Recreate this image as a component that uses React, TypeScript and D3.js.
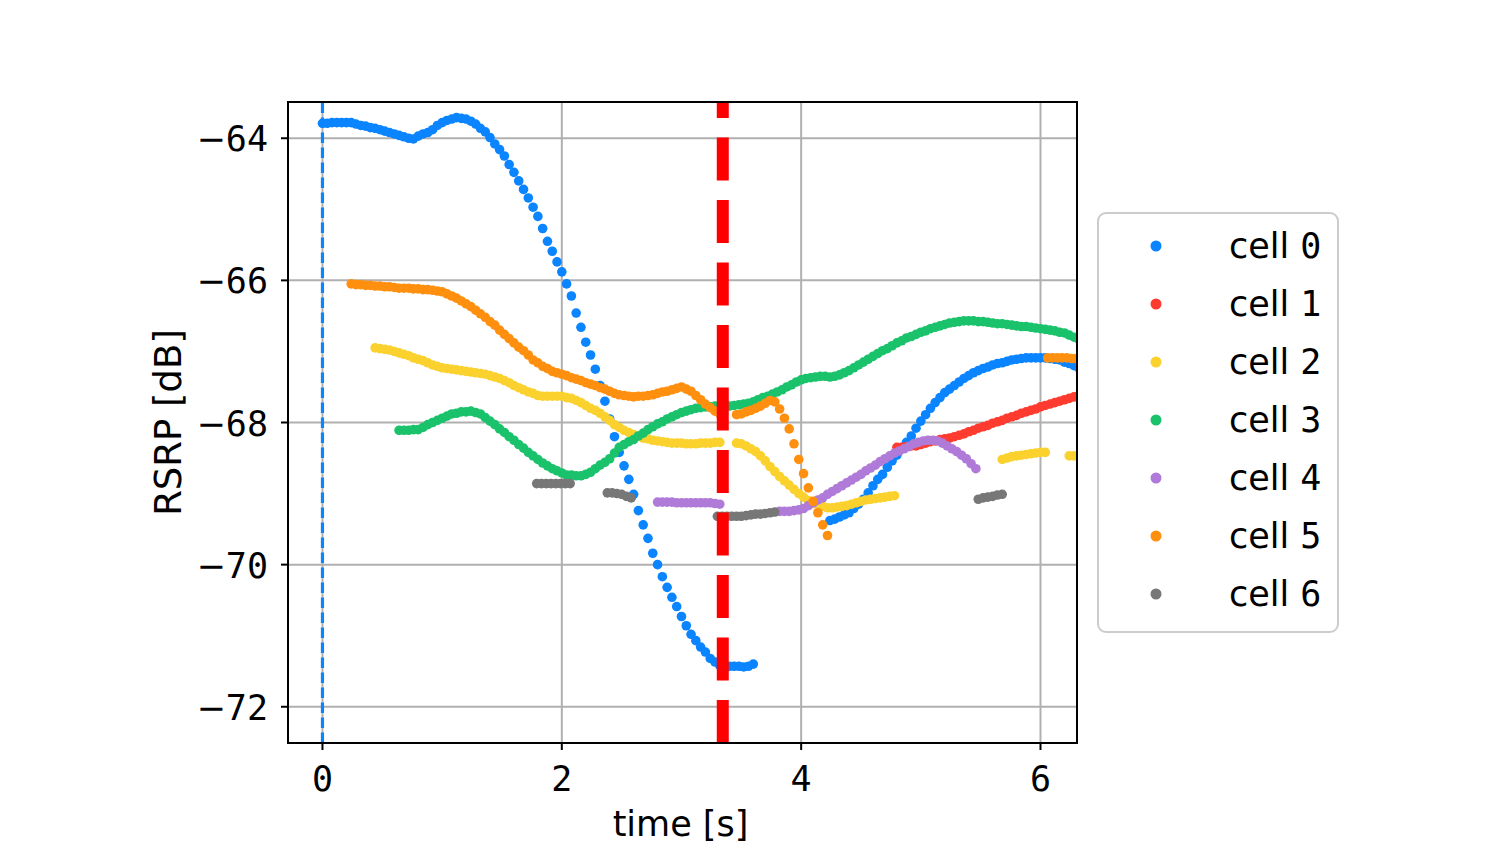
import React from "react";
import * as d3 from "d3";

// sampling step of the measurements [s]
const STEP = 0.04;

const xTicks = [0, 2, 4, 6];
const yTicks = [-72, -70, -68, -66, -64];
const cellNames = ["cell 0", "cell 1", "cell 2", "cell 3", "cell 4", "cell 5", "cell 6"];
const cellColors = ["#0a84ff", "#ff3b30", "#fbd12e", "#19c26b", "#b07bd8", "#ff8f0f", "#777777"];

// RSRP samples per cell, each segment starts at the given time
const cell0A = [
  -63.79, -63.79, -63.78, -63.78, -63.78, -63.78, -63.78, -63.8, -63.82, -63.83,
  -63.85, -63.86, -63.88, -63.9, -63.92, -63.94, -63.96, -63.98, -64.0, -64.01,
  -63.97, -63.94, -63.92, -63.88, -63.82, -63.78, -63.75, -63.73, -63.71, -63.72,
  -63.73, -63.76, -63.8, -63.86, -63.91, -63.99, -64.08, -64.16, -64.25, -64.37,
  -64.48, -64.6, -64.72, -64.84, -64.97, -65.1, -65.27, -65.45, -65.59, -65.74,
  -65.88, -66.05, -66.22, -66.46, -66.66, -66.87, -67.05, -67.25, -67.48, -67.7,
  -67.95, -68.2, -68.42, -68.61, -68.8, -69.01, -69.24, -69.44, -69.63, -69.84,
  -70.0, -70.17, -70.32, -70.46, -70.59, -70.73, -70.86, -70.98, -71.07, -71.16,
  -71.23, -71.32, -71.37, -71.42, -71.43, -71.43, -71.43, -71.43, -71.44, -71.43,
  -71.4,
];
const cell0B = [
  -69.38, -69.36, -69.33, -69.3, -69.27, -69.21, -69.15, -69.08, -68.99, -68.89,
  -68.8, -68.73, -68.63, -68.54, -68.46, -68.37, -68.28, -68.19, -68.08, -67.98,
  -67.89, -67.8, -67.72, -67.65, -67.58, -67.53, -67.48, -67.43, -67.38, -67.34,
  -67.3, -67.27, -67.24, -67.22, -67.19, -67.17, -67.16, -67.14, -67.12, -67.11,
  -67.1, -67.09, -67.09, -67.09, -67.09, -67.09, -67.1, -67.11, -67.12, -67.15,
  -67.17, -67.2, -67.23,
];
const cell1A = [
  -68.35, -68.35, -68.34, -68.33, -68.33, -68.31, -68.29, -68.27, -68.26, -68.24,
  -68.23, -68.22, -68.2, -68.18, -68.16, -68.13, -68.11, -68.08, -68.06, -68.04,
  -68.01, -67.99, -67.97, -67.94, -67.92, -67.9, -67.87, -67.85, -67.83, -67.81,
  -67.78, -67.76, -67.74, -67.72, -67.7, -67.68, -67.66, -67.64, -67.62,
];
const cell2A = [
  -66.95, -66.96, -66.97, -66.98, -67.0, -67.02, -67.04, -67.06, -67.09, -67.11,
  -67.13, -67.16, -67.19, -67.21, -67.23, -67.24, -67.25, -67.26, -67.27, -67.28,
  -67.29, -67.3, -67.31, -67.32, -67.34, -67.36, -67.38, -67.41, -67.44, -67.48,
  -67.51, -67.54, -67.57, -67.59, -67.62, -67.63, -67.63, -67.63, -67.63, -67.63,
  -67.65, -67.66, -67.69, -67.72, -67.76, -67.8, -67.83, -67.87, -67.92, -67.97,
  -68.03, -68.07, -68.11, -68.14, -68.17, -68.19, -68.22, -68.23, -68.25, -68.26,
  -68.27, -68.28, -68.29, -68.29, -68.29, -68.3, -68.3, -68.3, -68.29, -68.29,
  -68.29, -68.28, -68.28,
];
const cell2B = [
  -68.29, -68.3, -68.33, -68.37, -68.41, -68.47, -68.54, -68.62, -68.69, -68.76,
  -68.82, -68.88, -68.94, -69.0, -69.05, -69.1, -69.14, -69.16, -69.18, -69.2,
  -69.2, -69.19, -69.18, -69.17, -69.15, -69.13, -69.11, -69.09, -69.08, -69.07,
  -69.06, -69.05, -69.04, -69.03,
];
const cell2C = [-68.52, -68.5, -68.48, -68.47, -68.46, -68.45, -68.44, -68.43, -68.42, -68.42];
const cell2D = [-68.47, -68.47, -68.46];
const cell3A = [
  -68.11, -68.11, -68.11, -68.1, -68.1, -68.07, -68.03, -68.0, -67.97, -67.94,
  -67.91, -67.88, -67.87, -67.85, -67.85, -67.84, -67.86, -67.88, -67.93, -67.98,
  -68.03, -68.09, -68.14, -68.2, -68.25, -68.31, -68.36, -68.42, -68.47, -68.52,
  -68.57, -68.61, -68.65, -68.68, -68.71, -68.74, -68.74, -68.75, -68.75, -68.73,
  -68.7, -68.65, -68.6, -68.56, -68.51, -68.43, -68.35, -68.31, -68.27, -68.24,
  -68.19, -68.15, -68.1, -68.06, -68.02, -67.99, -67.95, -67.92, -67.89, -67.86,
  -67.84, -67.82, -67.8, -67.79, -67.78, -67.78, -67.77, -67.77, -67.77, -67.77,
  -67.76, -67.75, -67.74, -67.73, -67.71, -67.68, -67.65, -67.63, -67.6, -67.57,
  -67.54, -67.5, -67.47, -67.43, -67.4, -67.38, -67.37, -67.36, -67.35, -67.35,
  -67.36, -67.35, -67.33, -67.3, -67.27, -67.23, -67.19, -67.15, -67.11, -67.07,
  -67.03, -66.99, -66.96, -66.92, -66.88, -66.85, -66.81, -66.79, -66.76, -66.73,
  -66.71, -66.68, -66.66, -66.64, -66.62, -66.6, -66.59, -66.58, -66.57, -66.57,
  -66.57, -66.58, -66.58, -66.59, -66.6, -66.61, -66.61, -66.62, -66.63, -66.64,
  -66.65, -66.65, -66.66, -66.67, -66.68, -66.69, -66.7, -66.71, -66.73, -66.74,
  -66.77, -66.8, -66.83,
];
const cell4A = [
  -69.12, -69.12, -69.12, -69.12, -69.13, -69.13, -69.13, -69.13, -69.13, -69.13,
  -69.13, -69.13, -69.14, -69.15,
];
const cell4B = [
  -69.25, -69.25, -69.25, -69.24, -69.23, -69.21, -69.17, -69.13, -69.09, -69.06,
  -69.01, -68.97, -68.93, -68.89, -68.85, -68.81, -68.77, -68.73, -68.68, -68.64,
  -68.6, -68.55, -68.51, -68.47, -68.43, -68.4, -68.37, -68.34, -68.3, -68.28,
  -68.26, -68.25, -68.25, -68.26, -68.29, -68.33, -68.37, -68.41, -68.46, -68.51,
  -68.58, -68.65,
];
const cell5A = [
  -66.05, -66.06, -66.06, -66.07, -66.07, -66.08, -66.08, -66.09, -66.09, -66.1,
  -66.11, -66.11, -66.11, -66.12, -66.12, -66.13, -66.13, -66.14, -66.15, -66.16,
  -66.19, -66.22, -66.25, -66.29, -66.33, -66.37, -66.42, -66.47, -66.52, -66.58,
  -66.63, -66.7, -66.76, -66.82, -66.88, -66.94, -66.99, -67.05, -67.12, -67.16,
  -67.21, -67.24, -67.28, -67.3, -67.32, -67.34, -67.37, -67.39, -67.41, -67.44,
  -67.46, -67.48, -67.51, -67.53, -67.56, -67.59, -67.61, -67.62, -67.63, -67.64,
  -67.63, -67.63, -67.62, -67.61, -67.59, -67.57, -67.56, -67.54, -67.52, -67.5,
  -67.53, -67.56, -67.62, -67.68, -67.74, -67.79, -67.84, -67.88,
];
const cell5B = [
  -67.89, -67.88, -67.85, -67.83, -67.8, -67.77, -67.73, -67.69, -67.71, -67.81,
  -67.94, -68.09, -68.3, -68.52, -68.72, -68.92, -69.11, -69.27, -69.44, -69.59,
];
const cell5C = [-67.09, -67.09, -67.09, -67.09, -67.09, -67.1, -67.1];
const cell6A = [-68.86, -68.86, -68.86, -68.86, -68.86, -68.86, -68.86, -68.86];
const cell6B = [-68.99, -68.99, -69.0, -69.01, -69.04, -69.06];
const cell6C = [
  -69.32, -69.32, -69.32, -69.32, -69.32, -69.32, -69.31, -69.3, -69.29, -69.29,
  -69.28, -69.27, -69.26,
];
const cell6D = [-69.08, -69.06, -69.05, -69.04, -69.02, -69.01];

// [cell index, start time, samples]
const segments: [number, number, number[]][] = [
  [0, 0, cell0A],
  [0, 4.24, cell0B],
  [1, 4.8, cell1A],
  [2, 0.44, cell2A],
  [2, 3.46, cell2B],
  [2, 5.68, cell2C],
  [2, 6.24, cell2D],
  [3, 0.64, cell3A],
  [4, 2.8, cell4A],
  [4, 3.82, cell4B],
  [5, 0.24, cell5A],
  [5, 3.46, cell5B],
  [5, 6.06, cell5C],
  [6, 1.79, cell6A],
  [6, 2.38, cell6B],
  [6, 3.3, cell6C],
  [6, 5.48, cell6D],
];

const startLine = 0; // blue dashed line
const handoverTime = 3.345; // red dashed line

const W = 1500;
const H = 844;
const left = 288, right = 1077, top = 102, bottom = 743;
const FONT = "DejaVu Sans";
const MONO = "DejaVu Sans Mono";
const FS = 35;

// digits drawn in the mono face (slashed zero), the rest in the sans face
const Txt = (props: any) => {
  const { text, size, ...rest } = props;
  const runs: { s: string; mono: boolean }[] = [];
  for (const ch of text as string) {
    const mono = /[0-9]/.test(ch);
    const last = runs[runs.length - 1];
    if (last && last.mono === mono) last.s += ch;
    else runs.push({ s: ch, mono });
  }
  return (
    <text fontSize={size || FS} fill="#000" {...rest}>
      {runs.map((r, i) => (
        <tspan key={i} fontFamily={r.mono ? MONO : FONT}>
          {r.s}
        </tspan>
      ))}
    </text>
  );
};

export default function App() {
  const x = d3.scaleLinear().domain([-0.288, 6.305]).range([left, right]);
  const y = d3.scaleLinear().domain([-72.51, -63.49]).range([bottom, top]);
  const fmt = d3.format("d");

  return (
    <svg
      width={W}
      height={H}
      style={{ position: "absolute", left: 0, top: 0, background: "#fff" }}
      fontFamily={FONT}
    >
      <defs>
        <clipPath id="plot">
          <rect x={left} y={top} width={right - left} height={bottom - top} />
        </clipPath>
      </defs>

      {/* grid */}
      <g stroke="#b0b0b0" strokeWidth={2}>
        {xTicks.map((t) => (
          <line key={"gx" + t} x1={x(t)} x2={x(t)} y1={top} y2={bottom} />
        ))}
        {yTicks.map((t) => (
          <line key={"gy" + t} x1={left} x2={right} y1={y(t)} y2={y(t)} />
        ))}
      </g>

      {/* measurements */}
      <g clipPath="url(#plot)">
        {segments.map(([c, t0, vals], si) => (
          <g key={si} fill={cellColors[c]}>
            {vals.map((v, i) => (
              <circle key={i} cx={x(t0 + i * STEP)} cy={y(v)} r={4.8} />
            ))}
          </g>
        ))}
        <line
          x1={x(startLine)}
          x2={x(startLine)}
          y1={bottom}
          y2={top}
          stroke={cellColors[0]}
          strokeWidth={3.2}
          strokeDasharray="10.5 4.5"
        />
        <line
          x1={x(handoverTime)}
          x2={x(handoverTime)}
          y1={bottom}
          y2={top}
          stroke="#ff0000"
          strokeWidth={12}
          strokeDasharray="43 19.5"
        />
      </g>

      {/* frame and ticks */}
      <rect
        x={left}
        y={top}
        width={right - left}
        height={bottom - top}
        fill="none"
        stroke="#000"
        strokeWidth={2}
      />
      {xTicks.map((t) => (
        <g key={"tx" + t}>
          <line x1={x(t)} x2={x(t)} y1={bottom} y2={bottom + 7} stroke="#000" strokeWidth={2} />
          <Txt text={fmt(t)} x={x(t)} y={bottom + 48} textAnchor="middle" />
        </g>
      ))}
      {yTicks.map((t) => (
        <g key={"ty" + t}>
          <line x1={left - 7} x2={left} y1={y(t)} y2={y(t)} stroke="#000" strokeWidth={2} />
          <Txt text={fmt(t)} x={left - 20} y={y(t) + 13} textAnchor="end" />
        </g>
      ))}

      <Txt text="time [s]" x={(left + right) / 2 - 2} y={836} textAnchor="middle" />
      <Txt
        text="RSRP [dB]"
        size={37}
        transform={`translate(181, ${(top + bottom) / 2}) rotate(-90)`}
        textAnchor="middle"
      />

      {/* legend */}
      <rect
        x={1098}
        y={213}
        width={240}
        height={419}
        rx={8}
        fill="#fff"
        fillOpacity={0.8}
        stroke="#cccccc"
        strokeWidth={2}
      />
      {cellNames.map((n, i) => (
        <g key={n} transform={`translate(0, ${246 + i * 58})`}>
          <circle cx={1156} cy={0} r={5.5} fill={cellColors[i]} />
          <Txt text={n} x={1229} y={12} />
        </g>
      ))}
    </svg>
  );
}
